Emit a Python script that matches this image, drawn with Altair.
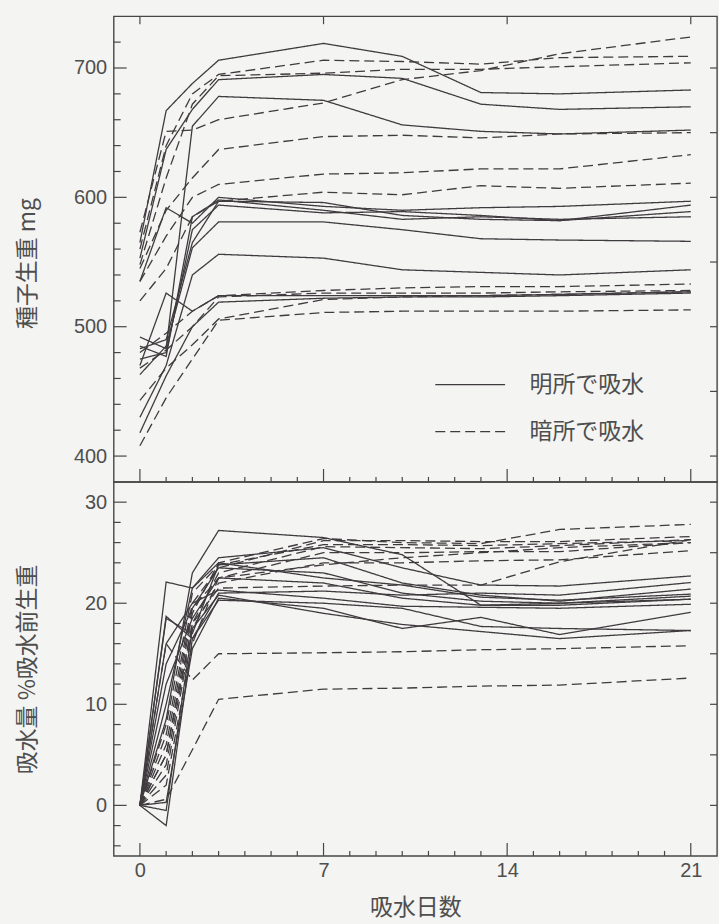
import altair as alt
import pandas as pd

# Measurement days after the start of imbibition
days = [0, 1, 2, 3, 7, 10, 13, 16, 21]
conditions = ["明所で吸水", "暗所で吸水"]

# Seed fresh weight (mg), one row per seed
weight_light = [
    [565, 667, 688, 706, 719, 709, 681, 680, 683],
    [553, 637, 668, 691, 695, 692, 672, 668, 670],
    [492, 483, 655, 678, 675, 656, 651, 649, 652],
    [535, 592, 580, 600, 593, 590, 592, 593, 597],
    [483, 490, 565, 597, 596, 586, 583, 582, 594],
    [475, 480, 575, 594, 588, 589, 586, 582, 589],
    [485, 477, 585, 598, 590, 583, 585, 583, 585],
    [463, 485, 561, 581, 581, 575, 568, 567, 566],
    [430, 470, 540, 556, 553, 544, 542, 540, 544],
    [470, 526, 512, 524, 524, 524, 524, 525, 527],
    [418, 462, 500, 519, 522, 523, 523, 524, 526],
]
weight_dark = [
    [573, 651, 652, 660, 673, 691, 698, 711, 724],
    [560, 640, 680, 695, 706, 705, 703, 708, 709],
    [548, 615, 672, 694, 696, 699, 699, 701, 704],
    [545, 590, 615, 637, 647, 648, 646, 649, 650],
    [535, 570, 600, 610, 618, 619, 622, 622, 633],
    [520, 545, 585, 597, 604, 602, 609, 607, 611],
    [480, 495, 512, 524, 528, 530, 531, 531, 533],
    [468, 482, 500, 523, 526, 526, 526, 527, 528],
    [443, 468, 486, 506, 521, 523, 524, 525, 527],
    [408, 445, 475, 505, 511, 512, 512, 512, 513],
]

# Water uptake (% of fresh weight before imbibition)
uptake_light = [
    [0, 8.5, 23.0, 27.2, 26.5, 24.8, 19.8, 20.0, 20.4],
    [0, 22.1, 21.5, 24.5, 25.5, 23.5, 21.8, 21.7, 22.7],
    [0, 18.5, 17.0, 23.8, 24.5, 22.0, 20.8, 20.2, 21.4],
    [0, 14.0, 19.5, 23.5, 23.0, 21.0, 20.2, 20.0, 20.7],
    [0, 12.0, 18.5, 22.5, 22.0, 20.5, 19.8, 19.8, 20.4],
    [0, 16.0, 20.0, 21.3, 20.5, 19.7, 19.6, 19.5, 19.9],
    [0, -2.0, 16.5, 20.3, 20.0, 19.5, 17.7, 17.5, 17.3],
    [0, 0.3, 15.5, 20.5, 19.5, 17.5, 18.6, 16.9, 19.1],
    [0, -0.5, 17.5, 20.8, 19.0, 17.9, 17.2, 16.5, 17.3],
    [0, 18.7, 16.5, 21.0, 21.2, 20.8, 21.0, 20.8, 22.05],
    [0, 10.0, 21.5, 24.0, 22.5, 21.8, 20.6, 20.3, 20.9],
]
uptake_dark = [
    [0, 5.0, 19.0, 24.0, 26.4, 26.0, 25.9, 27.3, 27.8],
    [0, 7.0, 20.0, 23.5, 26.2, 26.2, 26.1, 26.1, 26.6],
    [0, 4.0, 18.0, 23.0, 25.6, 25.5, 25.4, 25.7, 26.3],
    [0, 6.0, 19.5, 22.5, 25.0, 25.0, 25.1, 25.1, 26.0],
    [0, 3.0, 17.5, 22.0, 24.0, 24.0, 24.2, 24.3, 25.2],
    [0, 5.0, 18.0, 21.5, 21.7, 21.8, 21.8, 24.1, 26.3],
    [0, 8.0, 21.0, 23.8, 25.8, 25.8, 25.7, 25.9, 26.2],
    [0, 2.0, 16.0, 22.5, 23.8, 24.5, 25.0, 25.5, 26.0],
    [0, 16.0, 12.4, 15.0, 15.1, 15.2, 15.4, 15.5, 15.8],
    [0, 0.6, 5.5, 10.5, 11.5, 11.6, 11.8, 11.9, 12.6],
]

# Axis tick positions
day_ticks = [0, 7, 14, 21]
day_minor = [1, 2, 3, 4, 5, 6, 8, 9, 10, 11, 12, 13, 15, 16, 17, 18, 19, 20]
weight_ticks = [400, 500, 600, 700]
weight_minor = [420, 440, 460, 480, 520, 540, 560, 580, 620, 640, 660, 680, 720]
weight_right = [400, 450, 500, 550, 600, 650, 700]
uptake_ticks = [0, 10, 20, 30]
uptake_minor = [-4, -2, 2, 4, 6, 8, 12, 14, 16, 18, 22, 24, 26, 28]
uptake_right = [0, 5, 10, 15, 20, 25, 30]

JP = "Noto Sans CJK JP"
NUM = "Liberation Sans"
INK = "#3f3b3f"
FRAME = "#474747"
TEXT = "#4e4e4e"
BG = "#f4f4f2"

W = 605
H_TOP = 467
H_BOT = 375
XSCALE = alt.Scale(domain=[-1, 22], nice=False, zero=False)
WEIGHT_SCALE = alt.Scale(domain=[380, 740], nice=False, zero=False)
UPTAKE_SCALE = alt.Scale(domain=[-5, 32], nice=False, zero=False)


def long_table(light, dark):
    rows = []
    for cond, group in zip(conditions, (light, dark)):
        for i, series in enumerate(group):
            for d, v in zip(days, series):
                rows.append({"seed": f"{cond}{i}", "cond": cond, "day": d, "value": v})
    return pd.DataFrame(rows)


# Inward-pointing tick marks; the axis itself is defined once on the line layer
def rules_y(values, scale, x0, x1):
    return alt.Chart(pd.DataFrame({"v": values})).mark_rule(
        color=FRAME, strokeWidth=1.2
    ).encode(y=alt.Y("v:Q", scale=scale), x=alt.value(x0), x2=alt.value(x1))


def rules_x(values, y0, y1):
    return alt.Chart(pd.DataFrame({"v": values})).mark_rule(
        color=FRAME, strokeWidth=1.2
    ).encode(x=alt.X("v:Q", scale=XSCALE), y=alt.value(y0), y2=alt.value(y1))


def left_axis(title, values, title_y):
    return alt.Axis(
        values=values, title=title, ticks=False, domain=False, grid=False,
        labelFont=NUM, labelFontSize=20, labelColor=TEXT, labelPadding=7, labelFlush=False,
        titleFont=JP, titleFontSize=23, titleFontWeight="normal", titleColor=TEXT,
        titleX=-86, titleY=title_y, titleAngle=270, titleAlign="center",
        titleBaseline="middle",
    )


def line_layer(df, yscale, yaxis, xaxis, legend):
    return alt.Chart(df).mark_line(color=INK, strokeWidth=1.3).encode(
        x=alt.X("day:Q", scale=XSCALE, axis=xaxis),
        y=alt.Y("value:Q", scale=yscale, axis=yaxis),
        detail="seed:N",
        strokeDash=alt.StrokeDash(
            "cond:N",
            scale=alt.Scale(domain=conditions, range=[[1, 0], [10, 5]]),
            legend=legend,
        ),
    )


legend = alt.Legend(
    title=None, orient="none", legendX=311, legendY=358, padding=0,
    symbolType="M0,0H7", symbolSize=400, symbolStrokeWidth=1.3,
    symbolStrokeColor=INK, symbolOffset=0, labelOffset=83,
    labelFont=JP, labelFontSize=23, labelColor=TEXT, rowPadding=23,
)

top = alt.layer(
    line_layer(long_table(weight_light, weight_dark), WEIGHT_SCALE,
               left_axis("種子生重 mg", weight_ticks, H_TOP / 2 + 14), None, legend),
    rules_y(weight_ticks, WEIGHT_SCALE, 0, 13),
    rules_y(weight_minor, WEIGHT_SCALE, 0, 7),
    rules_y(weight_right, WEIGHT_SCALE, W, W - 7),
    rules_x(day_ticks, 0, 8),
    rules_x(day_ticks, H_TOP, H_TOP - 13),
    rules_x(day_minor, H_TOP, H_TOP - 5),
).properties(width=W, height=H_TOP)

bottom_x_axis = alt.Axis(
    values=day_ticks, title="吸水日数", ticks=False, domain=False, grid=False,
    labelFont=NUM, labelFontSize=20, labelColor=TEXT, labelPadding=5, labelFlush=False,
    titleFont=JP, titleFontSize=23, titleFontWeight="normal", titleColor=TEXT,
    titlePadding=16,
)

bottom = alt.layer(
    line_layer(long_table(uptake_light, uptake_dark), UPTAKE_SCALE,
               left_axis("吸水量 %吸水前生重", uptake_ticks, H_BOT / 2), bottom_x_axis, None),
    rules_y(uptake_ticks, UPTAKE_SCALE, 0, 13),
    rules_y(uptake_minor, UPTAKE_SCALE, 0, 7),
    rules_y(uptake_right, UPTAKE_SCALE, W, W - 7),
    rules_x(day_ticks, H_BOT, H_BOT - 13),
    rules_x(day_minor, H_BOT, H_BOT - 5),
).properties(width=W, height=H_BOT)

# Panels share one frame edge: stack them flush, sized by their plot areas only
chart = (
    alt.vconcat(top, bottom, spacing=0, bounds="flush")
    .resolve_scale(strokeDash="independent")
    .resolve_legend(strokeDash="independent")
    .properties(background=BG, padding={"left": 16, "top": 13, "right": 0, "bottom": 4})
    .configure_view(stroke=FRAME, strokeWidth=1.4)
)

chart.save("out.html", embed_options={"renderer": "svg", "actions": False})
